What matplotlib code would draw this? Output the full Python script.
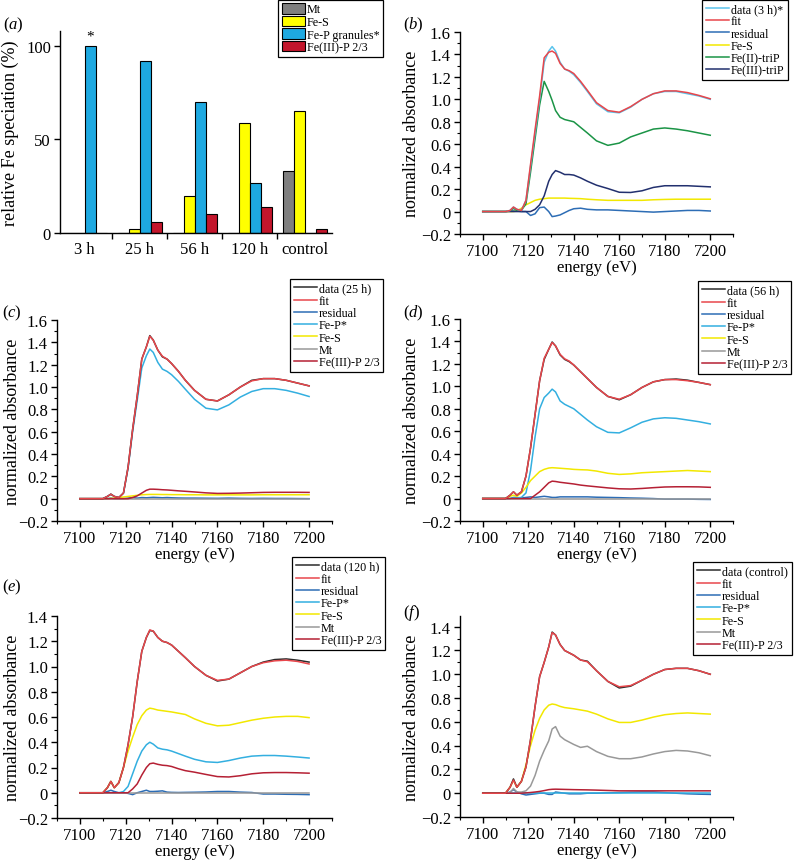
import matplotlib
matplotlib.use("Agg")
import matplotlib.pyplot as plt
from matplotlib.ticker import MultipleLocator, FixedLocator, FuncFormatter, NullFormatter
from matplotlib.lines import Line2D
from matplotlib.patches import Patch
import numpy as np

plt.rcParams["font.family"] = ["Liberation Serif", "DejaVu Serif"]
plt.rcParams["mathtext.fontset"] = "custom"
plt.rcParams["mathtext.rm"] = "Liberation Serif"
plt.rcParams["mathtext.it"] = "Liberation Serif:italic"
plt.rcParams["axes.unicode_minus"] = True

W, H = 795, 862

# ---- panel (a): relative Fe speciation (%) ----
TIMES = ["3 h", "25 h", "56 h", "120 h", "control"]
MT_PCT = [0, 0, 0, 0, 33]
FES_PCT = [0, 2, 20, 59, 65]
FEP_PCT = [100, 92, 70, 27, 0]
FE3P_PCT = [0, 6, 10, 14, 2]

# ---- panels (b)-(f): XANES spectra, read on a common energy grid ----
ENERGY = [7100, 7110, 7112, 7113.5, 7115, 7117, 7119, 7121, 7123, 7125,
          7127, 7129, 7130.5, 7132, 7134, 7136, 7138, 7140, 7143, 7146,
          7150, 7155, 7160, 7165, 7170, 7175, 7180, 7185, 7190, 7195, 7200]

# (b) 3 h
DATA_3H = [0, 0, 0.01, 0.04, 0.02, 0.01, 0.1, 0.4, 0.7, 1.0, 1.33, 1.43, 1.47, 1.43,
           1.33, 1.27, 1.25, 1.22, 1.15, 1.07, 0.96, 0.89, 0.88, 0.93, 1.0, 1.05,
           1.07, 1.07, 1.05, 1.03, 1.0]
FIT_3H = [0, 0, 0.01, 0.04, 0.02, 0.01, 0.1, 0.42, 0.73, 1.03, 1.37, 1.42, 1.43, 1.41,
          1.32, 1.27, 1.255, 1.23, 1.16, 1.08, 0.97, 0.9, 0.885, 0.935, 1.0, 1.05,
          1.075, 1.075, 1.06, 1.035, 1.005]
RES_3H = [0, 0, 0.005, 0.01, 0.005, 0, 0, -0.035, -0.02, 0.035, 0.04, 0.0, -0.045, -0.04,
          -0.03, -0.01, 0.01, 0.025, 0.03, 0.02, 0.015, 0.015, 0.01, 0.005, 0.0,
          -0.005, 0.0, 0.005, 0.01, 0.01, 0.005]
FES_3H = [0, 0, 0, 0, 0.005, 0.03, 0.06, 0.08, 0.1, 0.11, 0.115, 0.12, 0.12, 0.12,
          0.12, 0.12, 0.118, 0.117, 0.115, 0.11, 0.105, 0.1, 0.1, 0.1, 0.1, 0.105,
          0.108, 0.11, 0.11, 0.11, 0.11]
FE2TRIP_3H = [0, 0, 0.005, 0.03, 0.01, 0.01, 0.07, 0.35, 0.65, 0.95, 1.16, 1.07, 0.99,
              0.9, 0.84, 0.82, 0.81, 0.8, 0.75, 0.7, 0.63, 0.59, 0.61, 0.665, 0.7,
              0.735, 0.745, 0.735, 0.72, 0.7, 0.68]
FE3TRIP_3H = [0, 0, 0, 0, 0, 0, 0, 0, 0.02, 0.06, 0.14, 0.27, 0.33, 0.365, 0.35, 0.33,
              0.33, 0.325, 0.3, 0.27, 0.235, 0.205, 0.172, 0.17, 0.185, 0.215, 0.23,
              0.23, 0.23, 0.225, 0.22]

# (c) 25 h
DATA_25H = [0, 0, 0.02, 0.04, 0.02, 0.01, 0.05, 0.28, 0.62, 0.92, 1.25, 1.36, 1.46,
            1.42, 1.33, 1.27, 1.25, 1.21, 1.14, 1.06, 0.97, 0.89, 0.875, 0.93, 1.0,
            1.06, 1.075, 1.075, 1.06, 1.035, 1.01]
FIT_25H = [0, 0, 0.02, 0.04, 0.02, 0.01, 0.05, 0.28, 0.62, 0.92, 1.25, 1.36, 1.455,
           1.42, 1.33, 1.275, 1.25, 1.21, 1.14, 1.06, 0.97, 0.89, 0.875, 0.93, 1.0,
           1.055, 1.075, 1.075, 1.06, 1.035, 1.01]
RES_25H = [0, 0, 0, 0.005, 0, 0, 0, 0.005, 0.01, 0.005, 0.01, 0.008, 0.01, 0.012, 0.01,
           0.008, 0.01, 0.008, 0.006, 0.005, 0.005, 0.004, 0.003, 0.005, 0.003, 0.002,
           0.003, 0.002, 0.002, 0.001, 0.0]
FEP_25H = [0, 0, 0.02, 0.04, 0.02, 0.01, 0.05, 0.27, 0.6, 0.88, 1.17, 1.28, 1.34, 1.31,
           1.22, 1.16, 1.14, 1.11, 1.05, 0.98, 0.89, 0.81, 0.795, 0.84, 0.91, 0.96,
           0.985, 0.985, 0.97, 0.945, 0.915]
FES_25H = [0, 0, 0, 0.002, 0.005, 0.01, 0.015, 0.02, 0.025, 0.03, 0.035, 0.037, 0.038,
           0.038, 0.038, 0.037, 0.037, 0.036, 0.036, 0.035, 0.035, 0.034, 0.034, 0.034,
           0.034, 0.034, 0.035, 0.035, 0.035, 0.035, 0.035]
MT_25H = [0] * 31
FE3P_25H = [0, 0, 0, 0, 0, 0, 0, 0, 0.01, 0.025, 0.05, 0.075, 0.085, 0.085, 0.083,
            0.08, 0.078, 0.075, 0.07, 0.066, 0.06, 0.052, 0.047, 0.048, 0.05, 0.053,
            0.056, 0.057, 0.057, 0.057, 0.056]

# (d) 56 h
DATA_56H = [0, 0, 0.03, 0.06, 0.03, 0.06, 0.2, 0.45, 0.75, 1.05, 1.24, 1.33, 1.395,
            1.36, 1.28, 1.24, 1.22, 1.19, 1.13, 1.07, 0.99, 0.91, 0.88, 0.925, 0.99,
            1.04, 1.06, 1.065, 1.055, 1.035, 1.015]
FIT_56H = [0, 0, 0.03, 0.06, 0.03, 0.06, 0.2, 0.45, 0.75, 1.05, 1.25, 1.33, 1.39,
           1.36, 1.285, 1.245, 1.225, 1.19, 1.13, 1.07, 0.99, 0.91, 0.885, 0.925, 0.99,
           1.04, 1.06, 1.06, 1.05, 1.035, 1.015]
RES_56H = [0, 0, 0, 0.01, 0.01, 0.005, 0.01, 0.015, 0.01, 0.015, 0.02, 0.015, 0.01,
           0.01, 0.015, 0.015, 0.015, 0.015, 0.015, 0.015, 0.012, 0.01, 0.008, 0.005,
           0.003, 0.0, -0.005, -0.005, -0.005, -0.007, -0.008]
FEP_56H = [0, 0, 0, 0.005, 0.005, 0.01, 0.05, 0.25, 0.55, 0.8, 0.9, 0.94, 0.975, 0.95,
           0.87, 0.84, 0.82, 0.8, 0.75, 0.7, 0.64, 0.59, 0.585, 0.63, 0.68, 0.71, 0.72,
           0.715, 0.7, 0.685, 0.665]
FES_56H = [0, 0, 0.02, 0.03, 0.02, 0.05, 0.1, 0.16, 0.2, 0.24, 0.26, 0.272, 0.275,
           0.273, 0.27, 0.267, 0.264, 0.26, 0.257, 0.255, 0.245, 0.225, 0.215, 0.22,
           0.23, 0.235, 0.24, 0.245, 0.25, 0.245, 0.24]
MT_56H = [0] * 31
FE3P_56H = [0, 0, 0, 0, 0, 0, 0, 0, 0.03, 0.06, 0.1, 0.14, 0.155, 0.152, 0.145, 0.14,
            0.135, 0.13, 0.12, 0.113, 0.105, 0.095, 0.087, 0.085, 0.09, 0.097, 0.103,
            0.105, 0.105, 0.104, 0.1]

# (e) 120 h
DATA_120H = [0, 0, 0.04, 0.09, 0.04, 0.08, 0.2, 0.38, 0.6, 0.88, 1.12, 1.23, 1.285,
             1.28, 1.23, 1.2, 1.19, 1.17, 1.12, 1.07, 1.0, 0.93, 0.885, 0.9, 0.95, 1.0,
             1.035, 1.055, 1.06, 1.05, 1.035]
FIT_120H = [0, 0, 0.04, 0.09, 0.04, 0.08, 0.2, 0.38, 0.6, 0.88, 1.12, 1.23, 1.29,
            1.28, 1.23, 1.2, 1.19, 1.17, 1.12, 1.07, 1.0, 0.93, 0.89, 0.9, 0.95, 1.0,
            1.03, 1.045, 1.05, 1.04, 1.02]
RES_120H = [0, 0, 0.01, 0.02, 0.01, 0.0, 0.0, -0.005, -0.015, 0.0, 0.01, 0.02, 0.01,
            0.01, 0.012, 0.015, 0.005, 0.003, 0.002, 0.003, 0.004, 0.006, 0.01, 0.01,
            0.005, 0.002, -0.01, -0.01, -0.012, -0.013, -0.015]
FEP_120H = [0, 0, 0, 0, 0, 0, 0.01, 0.05, 0.15, 0.25, 0.33, 0.38, 0.4, 0.385, 0.355,
            0.345, 0.34, 0.33, 0.31, 0.29, 0.265, 0.245, 0.24, 0.255, 0.275, 0.29,
            0.295, 0.295, 0.29, 0.283, 0.275]
FES_120H = [0, 0, 0.04, 0.09, 0.04, 0.08, 0.2, 0.33, 0.44, 0.54, 0.61, 0.655, 0.67,
            0.665, 0.655, 0.65, 0.645, 0.64, 0.63, 0.62, 0.585, 0.55, 0.53, 0.535,
            0.555, 0.575, 0.59, 0.6, 0.605, 0.605, 0.595]
MT_120H = [0] * 31
FE3P_120H = [0, 0, 0, 0, 0, 0, 0, 0, 0.03, 0.07, 0.14, 0.2, 0.23, 0.235, 0.225, 0.218,
             0.215, 0.208, 0.19, 0.175, 0.163, 0.145, 0.128, 0.125, 0.135, 0.15, 0.158,
             0.16, 0.16, 0.158, 0.155]

# (f) control
DATA_CTRL = [0, 0, 0.05, 0.12, 0.05, 0.1, 0.22, 0.45, 0.73, 0.98, 1.1, 1.23, 1.355,
             1.33, 1.25, 1.2, 1.18, 1.16, 1.12, 1.11, 1.03, 0.94, 0.885, 0.9, 0.95,
             1.0, 1.04, 1.05, 1.05, 1.03, 1.0]
FIT_CTRL = [0, 0, 0.05, 0.11, 0.05, 0.1, 0.22, 0.45, 0.73, 0.98, 1.1, 1.23, 1.35,
            1.33, 1.25, 1.2, 1.18, 1.16, 1.12, 1.105, 1.03, 0.94, 0.895, 0.905, 0.95,
            1.0, 1.04, 1.05, 1.05, 1.03, 1.0]
RES_CTRL = [0, 0, 0.01, 0.03, 0.01, -0.005, -0.015, -0.01, -0.005, 0.0, 0.0, -0.01,
            -0.01, 0.01, 0.005, 0.0, -0.005, -0.005, -0.005, 0.0, 0.0, 0.003, 0.005,
            0.008, 0.01, 0.01, 0.005, 0.0, -0.005, -0.008, -0.01]
FEP_CTRL = [0] * 31
FES_CTRL = [0, 0, 0.05, 0.11, 0.05, 0.1, 0.24, 0.4, 0.53, 0.63, 0.7, 0.74, 0.75,
            0.745, 0.73, 0.72, 0.715, 0.71, 0.7, 0.69, 0.665, 0.625, 0.595, 0.595,
            0.615, 0.64, 0.66, 0.67, 0.675, 0.67, 0.665]
MT_CTRL = [0, 0, 0.005, 0.04, 0.01, 0.01, 0.02, 0.06, 0.15, 0.27, 0.36, 0.44, 0.54,
           0.56, 0.48, 0.45, 0.43, 0.41, 0.385, 0.395, 0.35, 0.31, 0.29, 0.29, 0.305,
           0.33, 0.35, 0.36, 0.355, 0.34, 0.315]
FE3P_CTRL = [0, 0, 0, 0, 0, 0, 0.003, 0.006, 0.01, 0.015, 0.022, 0.03, 0.033, 0.034,
             0.033, 0.032, 0.031, 0.03, 0.029, 0.028, 0.026, 0.023, 0.02, 0.02, 0.02,
             0.02, 0.02, 0.02, 0.02, 0.02, 0.02]

# colours
C_MT_BAR = "#7f7f7f"
C_FES_BAR = "#ffff00"
C_FEP_BAR = "#1ea9e1"
C_FE3P_BAR = "#c3162c"

C_DATA_LIGHT = "#5bc4ec"
C_DATA = "#2b2b2b"
C_FIT = "#e8464b"
C_RES = "#2d6db5"
C_FES = "#f2e800"
C_FE2TRIP = "#1b9446"
C_FE3TRIP = "#22306e"
C_FEP = "#33afe0"
C_MT = "#999999"
C_FE3P = "#b52034"

TICK_FS = 12
LABEL_FS = 13
LEG_FS = 8.7


def px_box(left, top, right, bottom):
    return [left / W, 1 - bottom / H, (right - left) / W, (bottom - top) / H]


def fmt_y(v, pos):
    if abs(v) < 1e-9:
        return "0"
    return f"{v:.1f}".replace("-", "\u2212")


def style_axes(ax):
    for s in ("top", "right"):
        ax.spines[s].set_visible(False)
    for s in ("left", "bottom"):
        ax.spines[s].set_linewidth(1.0)
    ax.tick_params(which="major", direction="out", length=4, width=1.0,
                   labelsize=TICK_FS, pad=2.5)
    ax.tick_params(which="minor", direction="out", length=2.5, width=0.8)


def add_legend(ax, handles, labels, left, top, handleheight=0.7):
    leg = ax.legend(handles, labels, loc="upper left",
                    bbox_to_anchor=(left / W, 1 - top / H),
                    bbox_transform=ax.figure.transFigure,
                    fontsize=LEG_FS, frameon=True, fancybox=False,
                    framealpha=1, edgecolor="black", borderpad=0.3,
                    labelspacing=0.02, handlelength=1.9, handletextpad=0.2,
                    handleheight=handleheight, borderaxespad=0)
    leg.get_frame().set_linewidth(0.9)
    return leg


fig = plt.figure(figsize=(W / 100, H / 100), dpi=100)

# ---------- (a) ----------
ax = fig.add_axes(px_box(60, 32, 332, 234))
x = np.arange(1, len(TIMES) + 1)
bw = 0.2
series = [(MT_PCT, C_MT_BAR, "Mt"), (FES_PCT, C_FES_BAR, "Fe-S"),
          (FEP_PCT, C_FEP_BAR, "Fe-P granules*"), (FE3P_PCT, C_FE3P_BAR, "Fe(III)-P 2/3")]
handles = []
for i, (vals, col, lab) in enumerate(series):
    offs = (i - 1.5) * bw
    ax.bar(x + offs, vals, width=bw, color=col, edgecolor="black", linewidth=0.8)
    handles.append(Patch(facecolor=col, edgecolor="black", linewidth=0.8, label=lab))
ax.text(x[0] + 0.1, FEP_PCT[0] + 2, "*", ha="center", va="bottom", fontsize=11)
ax.set_xlim(0.55, 5.5)
ax.set_ylim(0, 108)
ax.set_yticks([0, 50, 100])
ax.xaxis.set_major_locator(FixedLocator([1.5, 2.5, 3.5, 4.5]))
ax.xaxis.set_major_formatter(NullFormatter())
ax.xaxis.set_minor_locator(FixedLocator(x))
ax.set_xticklabels(TIMES, minor=True)
style_axes(ax)
ax.tick_params(axis="x", which="minor", length=0, labelsize=TICK_FS, pad=6)
ax.set_ylabel("relative Fe speciation (%)", fontsize=LABEL_FS)
ax.yaxis.set_label_coords(-0.15, 0.5)
add_legend(ax, handles, [h.get_label() for h in handles], 278, 0.5, handleheight=0.95)
fig.text(3 / W, 1 - 25 / H, r"($\mathit{a}$)", fontsize=TICK_FS, va="center", ha="left")

# ---------- spectra ----------
panels = [
    ("b", px_box(460, 33, 733, 235), (-0.2, 1.6), (702, 0.5), (403, 25), -0.145,
     [(DATA_3H, C_DATA_LIGHT, "data (3 h)*"), (FIT_3H, C_FIT, "fit"),
      (RES_3H, C_RES, "residual"), (FES_3H, C_FES, "Fe-S"),
      (FE2TRIP_3H, C_FE2TRIP, "Fe(II)-triP"), (FE3TRIP_3H, C_FE3TRIP, "Fe(III)-triP")]),
    ("c", px_box(57, 321, 332, 522), (-0.2, 1.6), (290, 280), (2, 313), -0.13,
     [(DATA_25H, C_DATA, "data (25 h)"), (FIT_25H, C_FIT, "fit"),
      (RES_25H, C_RES, "residual"), (FEP_25H, C_FEP, "Fe-P*"),
      (FES_25H, C_FES, "Fe-S"), (MT_25H, C_MT, "Mt"), (FE3P_25H, C_FE3P, "Fe(III)-P 2/3")]),
    ("d", px_box(460, 320, 733, 522), (-0.2, 1.6), (698, 282), (403, 313), -0.145,
     [(DATA_56H, C_DATA, "data (56 h)"), (FIT_56H, C_FIT, "fit"),
      (RES_56H, C_RES, "residual"), (FEP_56H, C_FEP, "Fe-P*"),
      (FES_56H, C_FES, "Fe-S"), (MT_56H, C_MT, "Mt"), (FE3P_56H, C_FE3P, "Fe(III)-P 2/3")]),
    ("e", px_box(57, 617, 332, 819), (-0.2, 1.4), (292, 558), (2, 587), -0.13,
     [(DATA_120H, C_DATA, "data (120 h)"), (FIT_120H, C_FIT, "fit"),
      (RES_120H, C_RES, "residual"), (FEP_120H, C_FEP, "Fe-P*"),
      (FES_120H, C_FES, "Fe-S"), (MT_120H, C_MT, "Mt"), (FE3P_120H, C_FE3P, "Fe(III)-P 2/3")]),
    ("f", px_box(460, 617, 733, 818), (-0.2, 1.49), (693, 563), (403, 613), -0.145,
     [(DATA_CTRL, C_DATA, "data (control)"), (FIT_CTRL, C_FIT, "fit"),
      (RES_CTRL, C_RES, "residual"), (FEP_CTRL, C_FEP, "Fe-P*"),
      (FES_CTRL, C_FES, "Fe-S"), (MT_CTRL, C_MT, "Mt"), (FE3P_CTRL, C_FE3P, "Fe(III)-P 2/3")]),
]

for letter, box, ylim, leg_pos, lab_pos, ylab_x, curves in panels:
    ax = fig.add_axes(box)
    # components first, data and fit drawn on top
    order = list(range(2, len(curves))) + [0, 1]
    for k in order:
        vals, col, lab = curves[k]
        ax.plot(ENERGY, vals, color=col, lw=1.1, zorder=3 if k < 2 else 2)
    ax.set_xlim(7090, 7210)
    ax.set_ylim(*ylim)
    ax.xaxis.set_major_locator(MultipleLocator(20))
    ax.xaxis.set_minor_locator(MultipleLocator(10))
    ax.yaxis.set_major_locator(MultipleLocator(0.2))
    ax.yaxis.set_minor_locator(MultipleLocator(0.1))
    ax.yaxis.set_major_formatter(FuncFormatter(fmt_y))
    style_axes(ax)
    ax.set_xlabel("energy (eV)", fontsize=TICK_FS, labelpad=0)
    ax.set_ylabel("normalized absorbance", fontsize=LABEL_FS)
    ax.yaxis.set_label_coords(ylab_x, 0.5)
    handles = [Line2D([], [], color=c[1], lw=1.1) for c in curves]
    add_legend(ax, handles, [c[2] for c in curves], *leg_pos)
    fig.text(lab_pos[0] / W, 1 - lab_pos[1] / H, rf"($\mathit{{{letter}}}$)",
             fontsize=TICK_FS, va="center", ha="left")

fig.savefig("out.png", dpi=100)
